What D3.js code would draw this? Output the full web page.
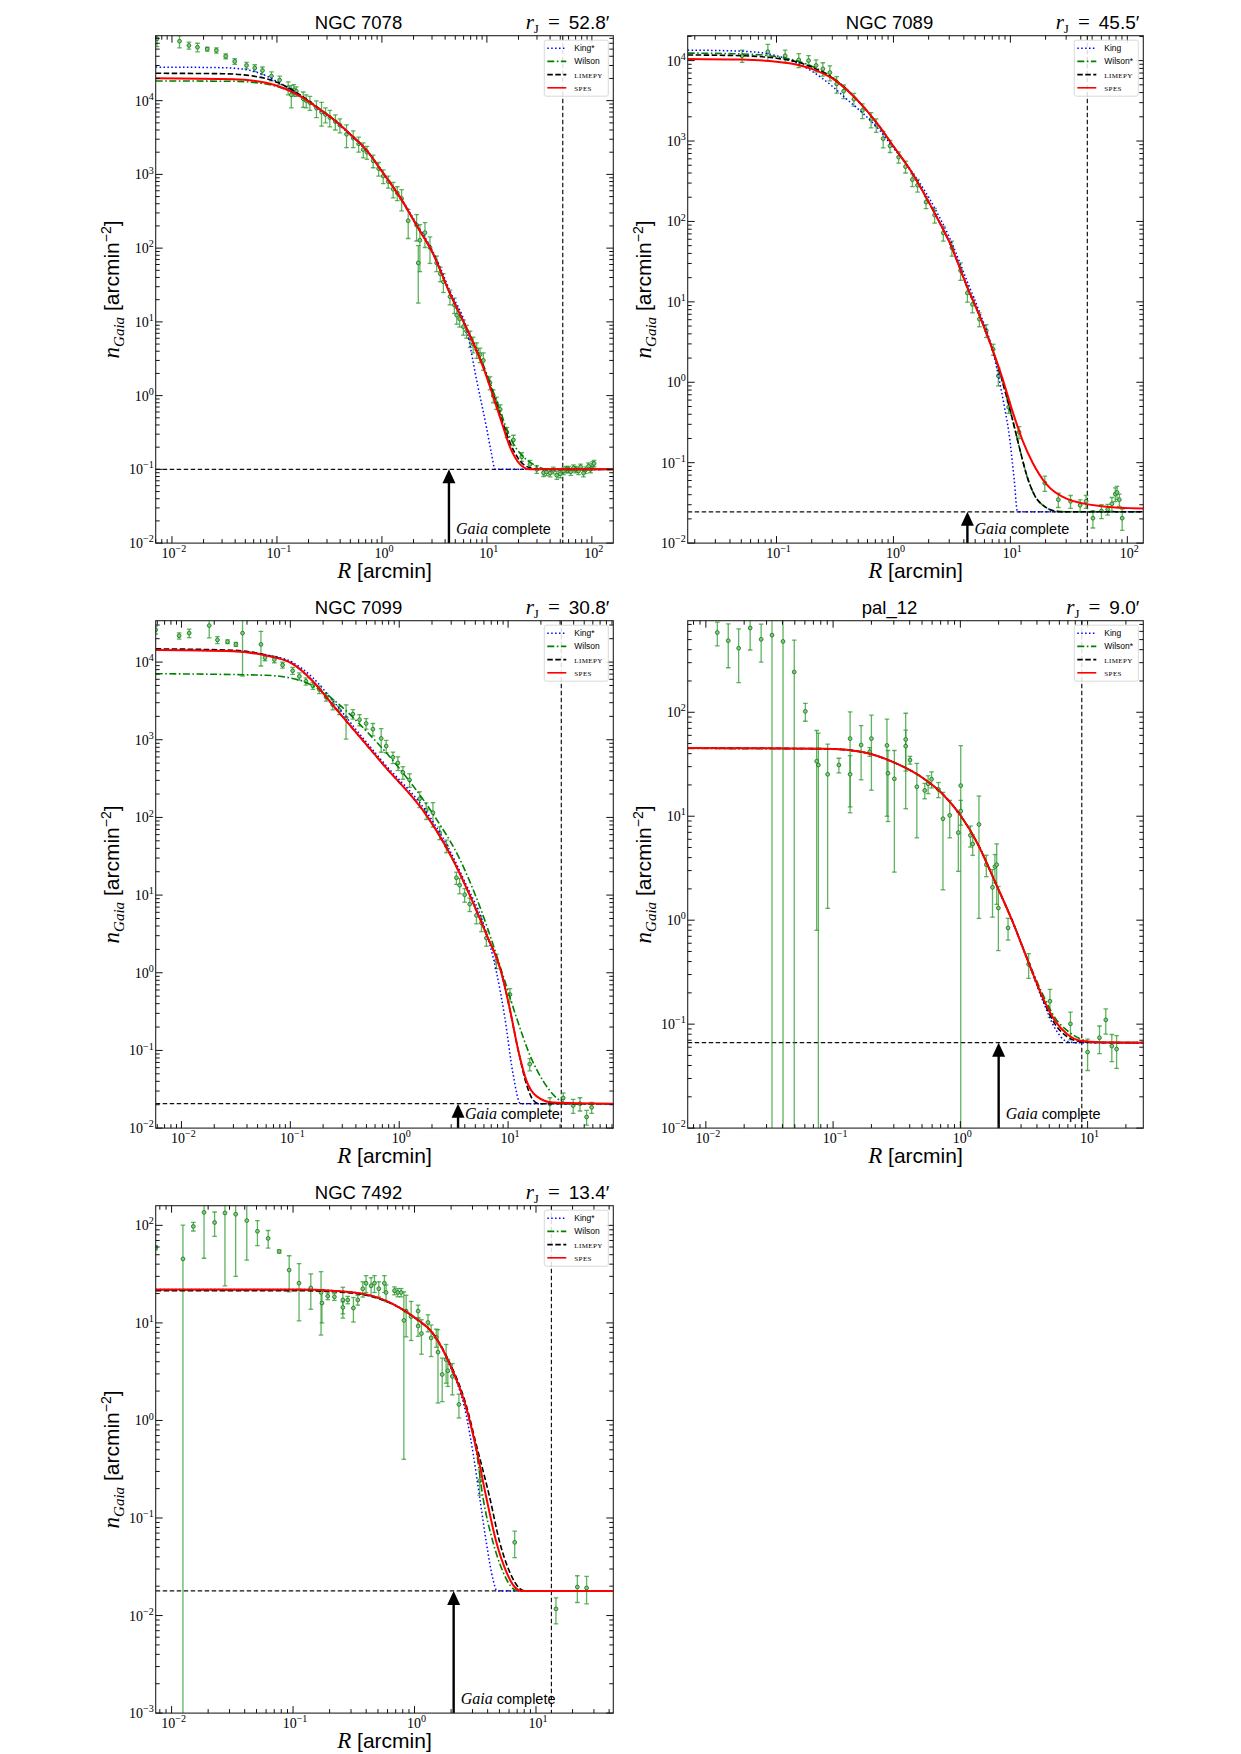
<!DOCTYPE html>
<html>
<head>
<meta charset="utf-8">
<script src="https://cdn.jsdelivr.net/npm/d3@7"></script>
<style>
  body { margin: 0; background: #fff; }
  svg { display: block; }
  .sans { font-family: "Liberation Sans", "DejaVu Sans", sans-serif; }
  .serif { font-family: "Liberation Serif", "DejaVu Serif", serif; }
</style>
</head>
<body>
<svg id="fig" width="1241" height="1754"></svg>
<script>
// ---- panel meta ----
const titles = ['NGC 7078', 'NGC 7089', 'NGC 7099', 'pal_12', 'NGC 7492'];
const rJ = [52.8, 45.5, 30.8, 9.0, 13.4];
const rJText = ['52.8′', '45.5′', '30.8′', '9.0′', '13.4′'];
const bgLevel = [0.1, 0.0245, 0.0206, 0.0664, 0.0179];
const arrowR = [4.35, 4.29, 3.47, 2.0, 2.1];
const xDomains = [[0.0070, 160], [0.0174, 137], [0.0058, 92.5], [0.0072, 27.4], [0.0074, 43.3]];
const yDomains = [[0.01, 76000], [0.01, 20400], [0.01, 34100], [0.01, 760], [0.001, 159]];
const kingNames = ['King*', 'King', 'King*', 'King', 'King*'];
const wilsonNames = ['Wilson', 'Wilson*', 'Wilson', 'Wilson*', 'Wilson'];

// ---- model curves [R, n] ----
const king1 = [[0.0070,28500],[0.03,28000],[0.05,26500],[0.08,21500],[0.12,15500],[0.166,11800],[0.25,7600],[0.35,5400],[0.5,3400],[0.7,2150],[1.0,1100],[1.5,490],[2.2,200],[3.0,95],[4.46,26],[6.46,7.5],[8.0,1.6],[9.95,0.36],[11.0,0.17],[12.0,0.1],[160,0.1]];
const wilson1 = [[0.0070,18500],[0.038,18300],[0.079,16800],[0.12,14200],[0.166,11400],[0.25,7800],[0.35,5500],[0.5,3500],[0.7,2200],[1.0,1100],[1.5,480],[2.2,190],[3.0,90],[4.46,24],[6.46,8.0],[9.25,2.6],[13.4,0.62],[16.6,0.27],[20.7,0.165],[25.7,0.125],[30,0.11],[37,0.1],[160,0.1]];
const limepy1 = [[0.0070,23500],[0.03,23200],[0.06,21500],[0.1,17800],[0.166,12000],[0.25,7900],[0.35,5500],[0.5,3500],[0.7,2200],[1.0,1100],[1.5,480],[2.2,190],[3.0,90],[4.46,24],[6.46,8.0],[9.25,2.45],[13.4,0.54],[16.6,0.23],[20.7,0.13],[25.7,0.105],[32,0.1],[160,0.1]];
const spes1 = [[0.0070,20100],[0.038,19500],[0.079,17500],[0.12,14500],[0.166,11500],[0.25,7800],[0.35,5500],[0.5,3500],[0.7,2200],[1.0,1100],[1.5,480],[2.2,190],[3.0,90],[4.46,24],[6.46,8.0],[9.25,2.4],[13.4,0.5],[16.6,0.2],[20.7,0.117],[25.7,0.1],[160,0.1]];

const king2 = [[0.0174,13500],[0.05,13100],[0.1,11500],[0.15,9300],[0.2,7400],[0.3,4800],[0.4,3300],[0.55,2200],[0.75,1400],[1.0,820],[1.4,440],[2.0,200],[2.5,110],[3.0,64],[4.3,17.5],[5.5,7.2],[7.0,2.6],[8.0,1.1],[9.0,0.45],[9.66,0.25],[10.8,0.06],[11.5,0.0245],[137,0.0245]];
const wilson2 = [[0.0174,12400],[0.05,12100],[0.1,11200],[0.15,9900],[0.2,8500],[0.3,6200],[0.4,4400],[0.55,2700],[0.75,1550],[1.0,860],[1.4,430],[2.0,175],[2.5,95],[3.0,56],[4.3,15],[5.5,6.5],[7.0,2.6],[8.5,1.05],[10.35,0.36],[12.0,0.15],[14,0.065],[16,0.04],[20,0.028],[25,0.0248],[30,0.0245],[137,0.0245]];
const limepy2 = [[0.0174,11750],[0.05,11500],[0.1,10700],[0.15,9600],[0.2,8300],[0.3,6100],[0.4,4350],[0.55,2700],[0.75,1550],[1.0,860],[1.4,430],[2.0,175],[2.5,95],[3.0,56],[4.3,15],[5.5,6.5],[7.0,2.6],[8.5,1.05],[10.35,0.36],[12.0,0.15],[14,0.065],[16,0.04],[20,0.028],[25,0.0248],[30,0.0245],[137,0.0245]];
const spes2 = [[0.0174,10500],[0.05,10300],[0.1,9700],[0.15,8900],[0.2,7900],[0.3,6000],[0.4,4300],[0.55,2700],[0.75,1550],[1.0,860],[1.4,430],[2.0,175],[2.5,95],[3.0,56],[4.3,15],[5.5,6.5],[7.0,2.6],[8.5,1.15],[10.35,0.45],[12.7,0.19],[15.5,0.1],[20.4,0.0537],[30.5,0.0355],[60.1,0.0288],[137,0.0269]];

const king3 = [[0.0058,14300],[0.0294,13900],[0.0597,12400],[0.105,9900],[0.161,6300],[0.245,3200],[0.402,1350],[0.708,520],[1.84,110],[2.90,38],[4.14,13.4],[5.89,4.4],[7.82,1.02],[9.31,0.27],[11.1,0.05],[13.0,0.0206],[92.5,0.0206]];
const wilson3 = [[0.0058,7080],[0.0597,6760],[0.121,5850],[0.185,4430],[0.282,2830],[0.497,1300],[1.007,425],[2.04,111],[3.59,29.2],[5.89,5.47],[9.0,0.916],[11.9,0.268],[15.8,0.088],[21.0,0.0403],[27.9,0.0244],[34.4,0.0206],[92.5,0.0206]];
const limepy3 = [[0.0058,14800],[0.0294,14200],[0.0597,12300],[0.105,9500],[0.161,5660],[0.245,2800],[0.402,1240],[0.708,485],[1.84,99.5],[2.90,34.5],[4.44,10.0],[6.32,3.13],[8.69,0.99],[10.4,0.33],[12.4,0.1],[14.8,0.036],[17.0,0.0229],[19.4,0.0206],[92.5,0.0206]];
const spes3 = [[0.0058,14300],[0.0294,13800],[0.0597,12100],[0.105,9460],[0.161,5660],[0.245,2800],[0.402,1240],[0.708,485],[1.84,99.5],[2.90,34.5],[4.44,10.0],[6.32,3.13],[8.69,0.99],[10.4,0.336],[12.4,0.1],[14.8,0.0403],[18.2,0.0258],[25.9,0.0213],[92.5,0.0206]];

const king4 = [[0.0072,45.0],[0.0893,44.4],[0.166,41.5],[0.31,32.3],[0.508,23.3],[0.738,16.0],[1.007,10.1],[1.37,5.41],[1.87,2.35],[2.55,0.99],[3.48,0.37],[4.47,0.165],[5.55,0.091],[6.89,0.068],[8.0,0.0664],[27.4,0.0664]];
const wilson4 = [[0.0072,44.8],[0.0893,44.4],[0.166,41.6],[0.31,32.4],[0.508,23.3],[0.738,16.0],[1.007,10.1],[1.37,5.41],[1.87,2.35],[2.55,1.0],[3.48,0.385],[4.47,0.19],[5.55,0.115],[6.89,0.087],[8.83,0.072],[11.1,0.0666],[27.4,0.0664]];
const limepy4 = [[0.0072,45.3],[0.0893,44.6],[0.166,41.7],[0.31,32.4],[0.508,23.3],[0.738,16.0],[1.007,10.1],[1.37,5.41],[1.87,2.35],[2.55,0.995],[3.48,0.376],[4.47,0.172],[5.55,0.1],[6.89,0.076],[8.83,0.068],[12.8,0.0665],[27.4,0.0664]];
const spes4 = [[0.0072,45.3],[0.0893,44.6],[0.166,41.7],[0.31,32.4],[0.508,23.3],[0.738,16.0],[1.007,10.1],[1.37,5.41],[1.87,2.35],[2.55,0.995],[3.48,0.376],[4.47,0.177],[5.55,0.1076],[6.89,0.0804],[8.83,0.0692],[12.8,0.0669],[27.4,0.0664]];

const king5 = [[0.0074,22.0],[0.112,22.0],[0.212,21.4],[0.399,19.6],[0.662,15.7],[1.03,11.1],[1.42,7.78],[1.94,3.7],[2.67,1.12],[3.03,0.466],[3.44,0.162],[3.9,0.0563],[4.43,0.0234],[4.78,0.0179],[43.3,0.0179]];
const wilson5 = [[0.0074,21.8],[0.112,21.8],[0.212,21.3],[0.399,19.5],[0.662,15.6],[1.03,11.0],[1.42,7.7],[1.94,3.8],[2.67,1.3],[3.23,0.48],[3.66,0.162],[4.43,0.0563],[5.36,0.0279],[6.47,0.0189],[7.13,0.0179],[43.3,0.0179]];
const limepy5 = [[0.0074,21.4],[0.112,21.4],[0.212,20.9],[0.399,19.2],[0.662,15.5],[1.03,11.0],[1.42,7.8],[1.94,3.95],[2.67,1.42],[3.23,0.56],[4.16,0.162],[5.03,0.0563],[6.08,0.0279],[7.36,0.0189],[8.09,0.0179],[43.3,0.0179]];
const spes5 = [[0.0074,22.0],[0.112,22.0],[0.212,21.4],[0.399,19.6],[0.662,15.7],[1.03,11.1],[1.42,7.78],[1.94,3.85],[2.67,1.34],[3.23,0.508],[3.9,0.162],[4.72,0.0563],[5.71,0.0279],[6.68,0.0196],[7.59,0.0179],[43.3,0.0179]];

// ---- observed profiles [R, n, sigma] ----
const pts1 = [[0.0072,69000,15000],[0.0118,64000,12000],[0.0145,56000,6000],[0.0175,53000,7000],[0.0217,50000,3000],[0.0265,48000,4000],[0.0325,40000,3000],[0.0396,34000,3000],[0.0513,30000,3000],[0.0615,27700,3000],[0.0728,25600,3000],[0.0887,21500,3000],[0.106,19000,2500],[0.128,15000,3000],[0.137,12000,4000],[0.145,14000,2500],[0.153,13400,2000],[0.178,10600,2500],[0.19,10000,2000],[0.206,9400,2000],[0.238,7900,2000],[0.266,7000,2500],[0.29,6500,1500],[0.319,5900,1500],[0.36,5200,1200],[0.398,4650,1000],[0.46,3500,1200],[0.533,3100,800],[0.6,2600,600],[0.664,2170,500],[0.72,2000,400],[0.826,1530,300],[0.93,1200,250],[1.03,950,200],[1.15,800,150],[1.28,630,150],[1.4,560,120],[1.54,470,150],[1.78,235,100],[2.14,205,80],[2.22,63,45],[2.30,128,80],[2.57,162,60],[2.87,102,40],[3.32,63,15],[3.6,45,10],[3.85,35,10],[4.45,22,5],[4.9,17,4],[5.16,12.3,3],[5.5,11,2.5],[5.97,8.6,2],[6.4,7.5,1.5],[6.92,6.0,1.5],[7.4,5.0,1.2],[8.0,4.2,1.0],[8.6,3.6,0.8],[9.26,3.0,0.8],[10.7,1.5,0.3],[11.5,1.0,0.2],[12.3,0.8,0.15],[13.4,0.65,0.1],[15.5,0.32,0.05],[17.9,0.25,0.04],[21.5,0.148,0.02],[25.7,0.117,0.015],[29.8,0.1,0.012],[34.6,0.09,0.01],[37,0.092,0.01],[40,0.089,0.01],[43,0.097,0.01],[46.3,0.083,0.01],[50,0.087,0.01],[53.7,0.095,0.01],[57,0.1,0.01],[59.9,0.1,0.01],[63,0.093,0.01],[66.8,0.105,0.01],[70,0.1,0.01],[74.6,0.095,0.01],[78,0.108,0.01],[83.2,0.089,0.01],[87,0.098,0.01],[92.9,0.11,0.012],[97,0.1,0.01],[102,0.115,0.012],[105,0.12,0.012]];
const pts2 = [[0.0508,11500,2000],[0.0843,12900,3000],[0.1186,11500,2000],[0.155,10200,2000],[0.188,10000,1500],[0.218,8700,1500],[0.249,7900,1500],[0.286,7100,1500],[0.327,5130,1200],[0.375,4170,800],[0.459,3310,600],[0.543,2400,500],[0.644,1860,400],[0.713,1580,300],[0.817,1070,250],[0.935,870,150],[1.107,630,100],[1.268,480,80],[1.452,331,60],[1.607,282,50],[1.90,174,30],[2.25,120,25],[2.67,72,15],[3.16,47,10],[3.75,24.5,6],[4.29,12.9,3],[4.74,9.3,2],[5.43,6.1,1.2],[6.22,4.4,0.8],[7.13,2.57,0.4],[7.89,1.2,0.3],[9.66,0.49,0.08],[11.86,0.24,0.04],[19.7,0.056,0.012],[25.7,0.0347,0.007],[32.7,0.0331,0.006],[39.5,0.0295,0.005],[44.4,0.0331,0.006],[50.8,0.0204,0.005],[60.1,0.0251,0.005],[67.9,0.0263,0.004],[73.8,0.0309,0.006],[78.9,0.0407,0.008],[81.7,0.0427,0.008],[85.5,0.0347,0.006],[90.4,0.0204,0.006]];
const pts3 = [[0.0058,26000,3000],[0.00952,21800,2000],[0.01177,23600,3000],[0.01799,29500,9000],[0.0214,19300,2000],[0.0265,18300,1000],[0.0316,16900,1000],[0.0364,23600,17000],[0.0537,16900,8000],[0.0585,11400,1000],[0.0713,10800,1000],[0.0849,9150,800],[0.105,7740,800],[0.121,6550,700],[0.139,5660,600],[0.161,4950,500],[0.185,4430,500],[0.213,3540,400],[0.245,2830,400],[0.282,2400,300],[0.325,1920,900],[0.375,2140,300],[0.432,1810,300],[0.497,1620,250],[0.573,1370,250],[0.683,1040,350],[0.759,830,150],[0.875,594,100],[0.973,502,100],[1.08,380,70],[1.245,304,60],[1.54,174,40],[1.77,124,30],[2.04,115,40],[2.35,63.7,12],[2.71,43.1,8],[3.35,16.7,3],[3.59,13.4,3],[3.99,10.1,2],[4.44,7.64,1.5],[5.12,5.47,1.2],[5.69,4.38,1],[6.32,2.8,0.6],[7.82,1.43,0.3],[10.4,0.525,0.1],[15.8,0.0666,0.012],[24.2,0.0206,0.004],[32.1,0.0244,0.004],[39.6,0.0195,0.004],[45.7,0.0206,0.004],[52.6,0.0139,0.003],[58.5,0.0185,0.003]];
const pts4 = [[0.0123,585,150],[0.015,488,220],[0.0181,413,220],[0.0223,647,250],[0.0272,503,200],[0.0331,552,560],[0.0404,480,500],[0.0495,244,250],[0.0605,102,20],[0.0743,33.8,33],[0.0766,31.1,32],[0.0906,25.3,24],[0.111,31.1,5],[0.136,55.8,45],[0.136,25.3,13],[0.166,48.4,26],[0.194,41.7,4],[0.2,55.8,38],[0.265,48.0,38],[0.27,25.9,17],[0.303,22.9,20],[0.372,54.8,43],[0.372,47.2,20],[0.402,34.7,3],[0.455,19.2,13],[0.525,17.7,3],[0.558,20.5,4],[0.594,22.7,4],[0.673,18.1,3],[0.73,9.46,7.5],[0.825,10.2,4],[0.964,6.95,4],[1.007,19.7,28],[1.007,11.2,3],[1.2,6.55,1.5],[1.25,5.41,1.2],[1.4,8.34,7.3],[1.6,3.42,0.8],[1.79,2.07,1],[1.87,3.28,1],[1.93,3.42,2],[1.99,1.31,0.8],[2.37,0.843,0.2],[3.44,0.376,0.1],[5.06,0.166,0.05],[7.33,0.1006,0.03],[10.0,0.0538,0.018],[12.4,0.074,0.022],[13.9,0.11,0.03],[15.5,0.0615,0.018],[16.9,0.0575,0.02]];
const pts5 = [[0.0074,59,3],[0.0124,45.3,55],[0.0151,97.5,10],[0.0185,136,90],[0.0226,107,30],[0.0275,134,110],[0.0337,130,100],[0.0416,112,68],[0.0509,86.9,25],[0.0624,73.5,15],[0.0769,54,2],[0.0929,34.8,14],[0.112,25.5,15],[0.140,22.8,9],[0.17,20.5,13],[0.173,16.0,6],[0.193,18.8,1.5],[0.219,18.5,1.5],[0.257,17.2,6],[0.257,14.4,2],[0.282,17.2,1.5],[0.314,14.2,4],[0.341,17.2,2],[0.375,22.4,4],[0.399,25.5,5],[0.439,24.0,5],[0.468,25.5,5],[0.508,22.4,4],[0.565,25.5,5],[0.583,20.5,4],[0.684,21.4,2],[0.728,20.5,2],[0.776,20.5,2],[0.817,10.6,10.2],[0.853,13.2,6],[0.938,11.6,5],[1.07,13.2,2],[1.07,9.29,2],[1.14,7.78,3],[1.29,10.1,2],[1.37,7.02,2.5],[1.51,7.13,1.5],[1.56,5.01,3.5],[1.69,2.96,1.4],[1.82,4.21,1.8],[1.88,3.23,1],[2.05,2.83,1],[2.32,1.46,0.4],[3.44,0.241,0.07],[6.68,0.0563,0.017],[14.6,0.0117,0.0035],[21.9,0.0196,0.006],[26.1,0.0192,0.006]];

const kingSets = [king1, king2, king3, king4, king5];
const wilsonSets = [wilson1, wilson2, wilson3, wilson4, wilson5];
const limepySets = [limepy1, limepy2, limepy3, limepy4, limepy5];
const spesSets = [spes1, spes2, spes3, spes4, spes5];
const ptsSets = [pts1, pts2, pts3, pts4, pts5];

// ---- layout ----
const colX = [155.7, 687.7];
const colW = [457.6, 455.6];
const rowY = [35.7, 620.7, 1205.7];
const PH = 507.4;
const slots = [[0, 0], [1, 0], [0, 1], [1, 1], [0, 2]];

const styles = {
  king:   { stroke: '#0000ff', width: 1.5, dash: '1.5,2.4' },
  wilson: { stroke: '#008000', width: 1.6, dash: '7,2.5,1.6,2.5' },
  limepy: { stroke: '#000000', width: 1.6, dash: '5.5,2.5' },
  spes:   { stroke: '#ff0000', width: 2.0, dash: null }
};

const svg = d3.select('#fig');

function supLabel(sel, k, size) {
  sel.append('tspan').text('10');
  sel.append('tspan').attr('font-size', size * 0.72).attr('dy', -size * 0.42)
    .text(k < 0 ? '\u2212' + (-k) : String(k));
}

function drawPanel(i) {
  const [col, row] = slots[i];
  const w = colW[col], h = PH;
  const g = svg.append('g').attr('transform', `translate(${colX[col]},${rowY[row]})`);
  const x = d3.scaleLog().domain(xDomains[i]).range([0, w]);
  const y = d3.scaleLog().domain(yDomains[i]).range([h, 0]);

  g.append('clipPath').attr('id', 'clip' + i)
    .append('rect').attr('width', w).attr('height', h);
  const plot = g.append('g').attr('clip-path', `url(#clip${i})`);

  // background level and Jacobi radius
  plot.append('line')
    .attr('x1', 0).attr('x2', w).attr('y1', y(bgLevel[i])).attr('y2', y(bgLevel[i]))
    .attr('stroke', '#111').attr('stroke-width', 1.2).attr('stroke-dasharray', '4.5,2.5');
  plot.append('line')
    .attr('x1', x(rJ[i])).attr('x2', x(rJ[i])).attr('y1', 0).attr('y2', h)
    .attr('stroke', '#111').attr('stroke-width', 1.2).attr('stroke-dasharray', '4.5,2.5');

  // data with error bars
  const eb = plot.append('g').attr('stroke', '#239623').attr('stroke-opacity', 0.72).attr('stroke-width', 1.3);
  ptsSets[i].forEach(([r, n, e]) => {
    const px = x(r);
    const hasLo = n - e > yDomains[i][0] * 0.5;
    const yLo = hasLo ? y(n - e) : h + 5;
    const yHi = y(n + e);
    eb.append('line').attr('x1', px).attr('x2', px).attr('y1', yLo).attr('y2', yHi);
    eb.append('line').attr('x1', px - 2.3).attr('x2', px + 2.3).attr('y1', yHi).attr('y2', yHi);
    if (hasLo) eb.append('line').attr('x1', px - 2.3).attr('x2', px + 2.3).attr('y1', yLo).attr('y2', yLo);
  });
  plot.append('g').selectAll('circle')
    .data(ptsSets[i])
    .join('circle')
    .attr('cx', d => x(d[0])).attr('cy', d => y(d[1])).attr('r', 1.9)
    .attr('fill', '#86c986').attr('stroke', '#1b7f1b').attr('stroke-width', 0.9);

  // models
  const line = d3.line().x(d => x(d[0])).y(d => y(d[1])).curve(d3.curveMonotoneX);
  const models = [['king', kingSets[i]], ['wilson', wilsonSets[i]], ['limepy', limepySets[i]], ['spes', spesSets[i]]];
  models.forEach(([key, pts]) => {
    const s = styles[key];
    plot.append('path').datum(pts).attr('d', line)
      .attr('fill', 'none').attr('stroke', s.stroke).attr('stroke-width', s.width)
      .attr('stroke-dasharray', s.dash);
  });

  // completeness arrow
  const ax = x(arrowR[i]), ay = y(bgLevel[i]);
  g.append('line').attr('x1', ax).attr('x2', ax).attr('y1', h).attr('y2', ay + 12)
    .attr('stroke', '#000').attr('stroke-width', 2.4);
  g.append('path').attr('d', `M${ax},${ay} L${ax - 6.5},${ay + 14} L${ax + 6.5},${ay + 14} Z`).attr('fill', '#000');
  const gc = g.append('text').attr('x', ax + 7).attr('y', h - 9);
  gc.append('tspan').attr('class', 'serif').attr('font-style', 'italic').attr('font-size', 16).text('Gaia');
  gc.append('tspan').attr('class', 'sans').attr('font-size', 14.5).text(' complete');

  // frame
  g.append('rect').attr('width', w).attr('height', h)
    .attr('fill', 'none').attr('stroke', '#222').attr('stroke-width', 1.1);

  // ticks (inward, all sides)
  const tk = g.append('g').attr('stroke', '#111').attr('stroke-width', 1);
  const isMajor = v => Math.abs(Math.log10(v) - Math.round(Math.log10(v))) < 1e-6;
  x.ticks().forEach(v => {
    const px = x(v), L = isMajor(v) ? 7 : 4;
    tk.append('line').attr('x1', px).attr('x2', px).attr('y1', h).attr('y2', h - L);
    tk.append('line').attr('x1', px).attr('x2', px).attr('y1', 0).attr('y2', L);
    if (isMajor(v)) {
      const t = g.append('text').attr('class', 'serif').attr('font-size', 14)
        .attr('x', px + 2).attr('y', h + 15).attr('text-anchor', 'middle');
      supLabel(t, Math.round(Math.log10(v)), 14);
    }
  });
  y.ticks().forEach(v => {
    const py = y(v), L = isMajor(v) ? 7 : 4;
    tk.append('line').attr('x1', 0).attr('x2', L).attr('y1', py).attr('y2', py);
    tk.append('line').attr('x1', w).attr('x2', w - L).attr('y1', py).attr('y2', py);
    if (isMajor(v)) {
      const t = g.append('text').attr('class', 'serif').attr('font-size', 14)
        .attr('x', -2).attr('y', py + 5).attr('text-anchor', 'end');
      supLabel(t, Math.round(Math.log10(v)), 14);
    }
  });

  // titles
  g.append('text').attr('class', 'sans').attr('font-size', 18.5)
    .attr('x', w / 2 - 26).attr('y', -7).attr('text-anchor', 'middle').text(titles[i]);
  const rt = g.append('text').attr('x', w - 4).attr('y', -7).attr('text-anchor', 'end');
  rt.append('tspan').attr('class', 'serif').attr('font-style', 'italic').attr('font-size', 21).text('r');
  rt.append('tspan').attr('class', 'serif').attr('font-size', 13).attr('dy', 4).text('J');
  rt.append('tspan').attr('class', 'serif').attr('font-size', 21).attr('dy', -4).attr('dx', 9).text('=');
  rt.append('tspan').attr('class', 'sans').attr('font-size', 19).attr('dx', 9).text(rJText[i]);

  // axis labels
  const xl = g.append('text').attr('x', w / 2).attr('y', h + 35).attr('text-anchor', 'middle');
  xl.append('tspan').attr('class', 'serif').attr('font-style', 'italic').attr('font-size', 23).text('R');
  xl.append('tspan').attr('class', 'sans').attr('font-size', 21).text(' [arcmin]');

  const yl = g.append('text').attr('transform', `translate(-37,${h / 2}) rotate(-90)`).attr('text-anchor', 'middle');
  yl.append('tspan').attr('class', 'serif').attr('font-style', 'italic').attr('font-size', 23).text('n');
  yl.append('tspan').attr('class', 'serif').attr('font-style', 'italic').attr('font-size', 15).attr('dy', 5).text('Gaia');
  yl.append('tspan').attr('class', 'sans').attr('font-size', 21).attr('dy', -5).text(' [arcmin');
  yl.append('tspan').attr('class', 'sans').attr('font-size', 14).attr('dy', -8).text('\u22122');
  yl.append('tspan').attr('class', 'sans').attr('font-size', 21).attr('dy', 8).text(']');

  // legend
  const lg = g.append('g').attr('transform', `translate(${w - 69},4.5)`);
  lg.append('rect').attr('width', 64).attr('height', 56).attr('rx', 2)
    .attr('fill', '#fff').attr('fill-opacity', 0.85).attr('stroke', '#d0d0d0').attr('stroke-width', 0.8);
  const entries = [['king', kingNames[i], 'sans'], ['wilson', wilsonNames[i], 'sans'], ['limepy', 'LIMEPY', 'serif'], ['spes', 'SPES', 'serif']];
  entries.forEach(([key, label, fam], j) => {
    const s = styles[key], yy = 8 + j * 13.2;
    lg.append('line').attr('x1', 3).attr('x2', 22).attr('y1', yy).attr('y2', yy)
      .attr('stroke', s.stroke).attr('stroke-width', Math.min(s.width, 1.6)).attr('stroke-dasharray', s.dash);
    lg.append('text').attr('class', fam).attr('x', 30).attr('y', yy + 3)
      .attr('font-size', fam === 'serif' ? 7 : 8.5)
      .attr('letter-spacing', fam === 'serif' ? 0.4 : 0)
      .text(label);
  });
}

titles.forEach((_, i) => drawPanel(i));
</script>
</body>
</html>
